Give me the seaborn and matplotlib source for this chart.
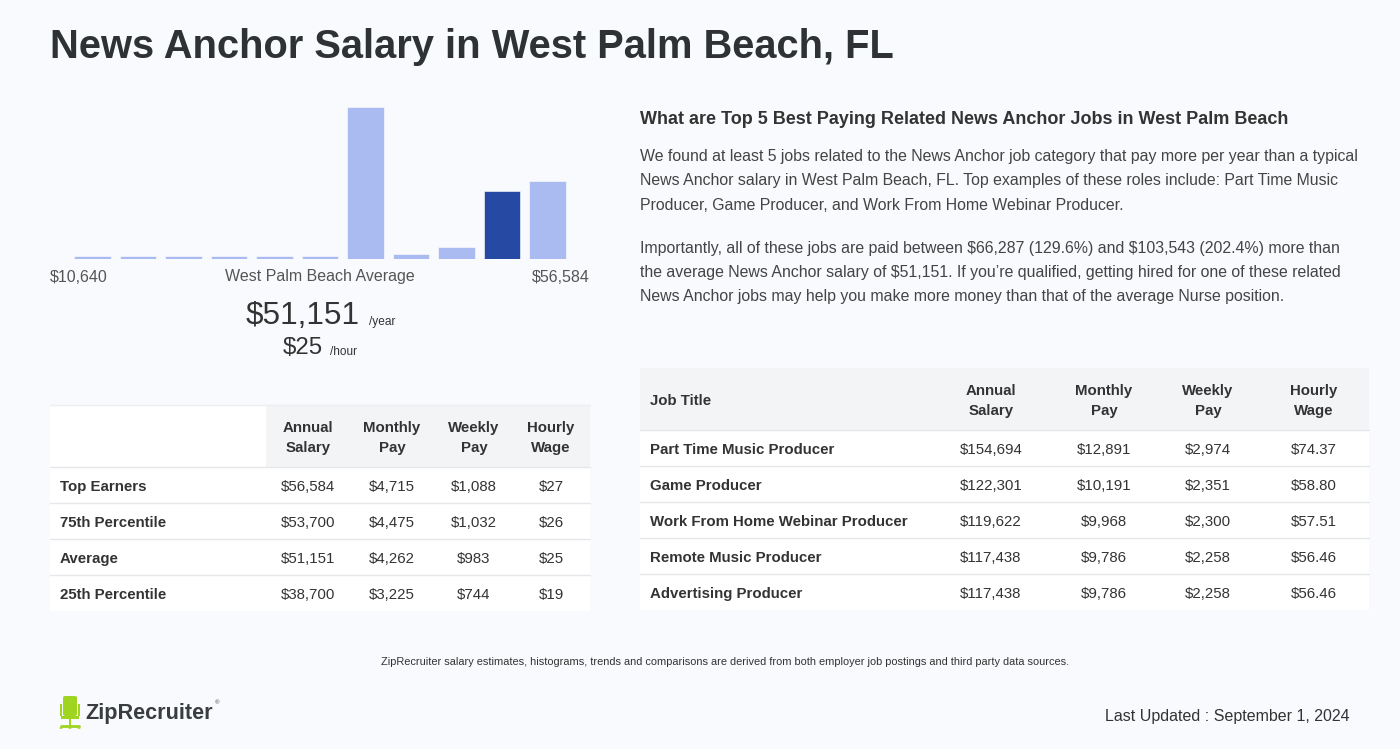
import matplotlib
matplotlib.use("Agg")
import matplotlib.pyplot as plt
import seaborn as sns
import pandas as pd
from matplotlib.patches import Rectangle, FancyBboxPatch
from matplotlib.lines import Line2D

# ---------------- data ----------------
title = "News Anchor Salary in West Palm Beach, FL"
hist_bins = [f"b{i}" for i in range(11)]
hist_heights = [2.0, 2.0, 2.0, 2.0, 2.0, 2.0, 100, 3.5, 8, 45, 51]
highlight_bin = 9
range_low = "$10,640"
range_high = "$56,584"
avg_label = "West Palm Beach Average"
avg_year = "$51,151"
avg_hour = "$25"

left_cols = ["Annual\nSalary", "Monthly\nPay", "Weekly\nPay", "Hourly\nWage"]
left_rows = ["Top Earners", "75th Percentile", "Average", "25th Percentile"]
left_annual = ["$56,584", "$53,700", "$51,151", "$38,700"]
left_monthly = ["$4,715", "$4,475", "$4,262", "$3,225"]
left_weekly = ["$1,088", "$1,032", "$983", "$744"]
left_hourly = ["$27", "$26", "$25", "$19"]

right_heading = "What are Top 5 Best Paying Related News Anchor Jobs in West Palm Beach"
para1 = ["We found at least 5 jobs related to the News Anchor job category that pay more per year than a typical",
         "News Anchor salary in West Palm Beach, FL. Top examples of these roles include: Part Time Music",
         "Producer, Game Producer, and Work From Home Webinar Producer."]
para2 = ["Importantly, all of these jobs are paid between $66,287 (129.6%) and $103,543 (202.4%) more than",
         "the average News Anchor salary of $51,151. If you\u2019re qualified, getting hired for one of these related",
         "News Anchor jobs may help you make more money than that of the average Nurse position."]

right_cols = ["Job Title", "Annual\nSalary", "Monthly\nPay", "Weekly\nPay", "Hourly\nWage"]
job_titles = ["Part Time Music Producer", "Game Producer", "Work From Home Webinar Producer",
              "Remote Music Producer", "Advertising Producer"]
job_annual = ["$154,694", "$122,301", "$119,622", "$117,438", "$117,438"]
job_monthly = ["$12,891", "$10,191", "$9,968", "$9,786", "$9,786"]
job_weekly = ["$2,974", "$2,351", "$2,300", "$2,258", "$2,258"]
job_hourly = ["$74.37", "$58.80", "$57.51", "$56.46", "$56.46"]

footnote = "ZipRecruiter salary estimates, histograms, trends and comparisons are derived from both employer job postings and third party data sources."
updated = "Last Updated : September 1, 2024"
brand = "ZipRecruiter"

# ---------------- style ----------------
sns.set_theme(style="white")
plt.rcParams['font.family'] = ['Liberation Sans', 'DejaVu Sans']
plt.rcParams['text.parse_math'] = False

BG = "#f9fafd"
LIGHT = "#a9bbf1"
DARK = "#264aa3"
HEAD_BG = "#f3f4f6"
LINE = "#e6e7ea"
TXT = "#333333"

W, H = 1400, 749
fig = plt.figure(figsize=(W / 100, H / 100), dpi=100, facecolor=BG)


def fx(x):
    return x / W


def fy(y):
    return 1 - y / H


def txt(x, y, s, size, ha="left", va="center", weight="normal", color=TXT, dy=2.0, **kw):
    fig.text(fx(x), fy(y + dy), s, fontsize=size, ha=ha, va=va, weight=weight, color=color,
             parse_math=False, **kw)


def rect(x0, y0, x1, y1, color):
    fig.add_artist(Rectangle((fx(x0), fy(y1)), fx(x1 - x0), (y1 - y0) / H,
                             transform=fig.transFigure, facecolor=color, edgecolor="none", zorder=0))


def hline(x0, x1, y, color=LINE, lw=1.0):
    fig.add_artist(Line2D([fx(x0), fx(x1)], [fy(y), fy(y)], transform=fig.transFigure,
                          color=color, lw=lw, zorder=1))


# title
txt(50, 44, title, 28.7, weight="bold", color="#2e3234", dy=3.5)

# ---------------- histogram ----------------
ax = fig.add_axes([fx(50), fy(259), fx(540), 152 / H])
ax.set_facecolor("none")
df = pd.DataFrame({"bin": hist_bins, "h": hist_heights})
palette = [DARK if i == highlight_bin else LIGHT for i in range(len(hist_bins))]
sns.barplot(data=df, x="bin", y="h", hue="bin", palette=palette, legend=False,
            width=0.8, ax=ax, edgecolor="white", linewidth=0.4, saturation=1)
ax.set_xlim(-0.934, 10.934)
ax.set_ylim(0, 100)
ax.axis("off")

txt(50, 275, range_low, 11.5, color="#555555")
txt(590, 275, range_high, 11.5, ha="right", color="#555555")
txt(320, 275, avg_label, 11.5, ha="center", color="#555555")
txt(360, 313, avg_year, 22.7, ha="right", color="#333333", dy=3)
txt(369, 320, "/year", 8.6, color="#333333")
txt(323, 345, avg_hour, 17.3, ha="right", color="#333333", dy=2.5)
txt(330, 350, "/hour", 8.6, color="#333333")

# ---------------- left table ----------------
rect(50, 405, 590, 611, "#ffffff")
rect(266, 405, 590, 467, HEAD_BG)
hline(50, 590, 405, color="#eceef0")
left_x = [308, 392, 474, 551]
for x, c in zip(left_x, left_cols):
    txt(x, 436, c, 10.8, ha="center", weight="bold", linespacing=1.6)
hline(50, 590, 467)
row_ys = [485, 521, 557, 593]
cols_vals = [left_annual, left_monthly, left_weekly, left_hourly]
for i, (y, r) in enumerate(zip(row_ys, left_rows)):
    txt(60, y, r, 10.8, weight="bold")
    for x, vals in zip(left_x, cols_vals):
        txt(x, y, vals[i], 10.8, ha="center")
    if i < len(left_rows) - 1:
        hline(50, 590, y + 18)

# ---------------- right text ----------------
txt(640, 118, right_heading, 13.0, weight="bold")
for i, line in enumerate(para1):
    txt(640, 155 + 24 * i, line, 11.4, color="#444444")
for i, line in enumerate(para2):
    txt(640, 247 + 24 * i, line, 11.4, color="#444444")

# ---------------- right table ----------------
rect(640, 368, 1369, 610, "#ffffff")
rect(640, 368, 1369, 430, HEAD_BG)
right_x = [991, 1104, 1208, 1314]
txt(650, 399, right_cols[0], 10.8, weight="bold")
for x, c in zip(right_x, right_cols[1:]):
    txt(x, 399, c, 10.8, ha="center", weight="bold", linespacing=1.6)
hline(640, 1369, 430)
jrow_ys = [448, 484, 520, 556, 592]
jcols = [job_annual, job_monthly, job_weekly, job_hourly]
for i, (y, t) in enumerate(zip(jrow_ys, job_titles)):
    txt(650, y, t, 10.8, weight="bold")
    for x, vals in zip(right_x, jcols):
        txt(x, y, vals[i], 10.8, ha="center")
    if i < len(job_titles) - 1:
        hline(640, 1369, y + 18)

# ---------------- footer ----------------
txt(725, 660, footnote, 7.9, ha="center", color="#333333")
txt(1350, 714, updated, 11.5, ha="right", color="#333333")

# logo: chair icon
GREEN = "#9fd420"
fig.add_artist(FancyBboxPatch((fx(63), fy(716)), fx(14), 20 / H,
                              boxstyle="round,pad=0,rounding_size=0.002",
                              transform=fig.transFigure, facecolor=GREEN, edgecolor="none"))
rect(60, 704, 62, 716, GREEN)
rect(78, 704, 80, 716, GREEN)
rect(61, 716, 79, 719, GREEN)
rect(69, 719, 71, 726, GREEN)
hline(61, 79, 726, color=GREEN, lw=2)
for xx in (61, 70, 79):
    fig.add_artist(plt.Circle((fx(xx), fy(728)), 1.6 / W, transform=fig.transFigure,
                              facecolor=GREEN, edgecolor="none"))
txt(85, 712, brand, 15.6, weight="bold", color="#3a3d40")
txt(215, 703, "\u00ae", 4.5, color="#3a3d40", dy=0)

fig.savefig("out.png", dpi=100, facecolor=BG)
